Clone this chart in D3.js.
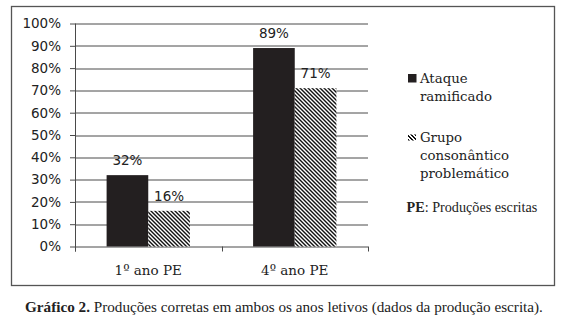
<!DOCTYPE html>
<html>
<head>
<meta charset="utf-8">
<script src="https://cdn.jsdelivr.net/npm/d3@7"></script>
<style>
  body { margin:0; background:#fff; }
  svg { display:block; }
</style>
</head>
<body>
<div id="chart"></div>
<script>
const categories = ["1º ano PE", "4º ano PE"]
const ataque = [32, 89]
const grupo = [16, 71]
const seriesNames = ["ataque", "grupo"]
const yTicks = [0, 10, 20, 30, 40, 50, 60, 70, 80, 90, 100]
const legendLines = [["Ataque", "ramificado"], ["Grupo", "consonântico", "problemático"]]
const caption = ["Gráfico 2.", " Produções corretas em ambos os anos letivos (dados da produção escrita)."]

const W = 569, H = 325
const margin = {top:23.5, left:75, right:201, bottom:78.5}
const width = W - margin.left - margin.right,
  height = H - margin.top - margin.bottom

const svg = d3.select("#chart")
  .append("svg")
    .attr("width", W)
    .attr("height", H)

// hatch pattern: 4x4 tile, "\" stripes two pixels thick
const hatch = svg.append("defs")
  .append("pattern")
    .attr("id", "hatch")
    .attr("patternUnits", "userSpaceOnUse")
    .attr("width", 4)
    .attr("height", 4)
hatch.append("rect").attr("width", 4).attr("height", 4).attr("fill", "#fff")
d3.range(4).forEach(r => {
  [r, (r + 1) % 4].forEach(c => {
    hatch.append("rect").attr("x", c).attr("y", r).attr("width", 1).attr("height", 1)
      .attr("fill", "#111").attr("shape-rendering", "crispEdges")
  })
})

// outer frame
svg.append("rect")
  .attr("x", 11.5).attr("y", 6.5)
  .attr("width", 543).attr("height", 279)
  .attr("fill", "none")
  .attr("stroke", "#555")
  .attr("stroke-width", 1.3)

const g = svg.append("g")
  .attr("transform", "translate(" + margin.left + "," + margin.top + ")")

const x0 = d3.scaleBand().domain(categories).range([0, width])
const pad = x0.bandwidth() * 0.2157
const x1 = d3.scaleBand().domain(seriesNames).range([pad, x0.bandwidth() - pad])
const y = d3.scaleLinear().domain([0, 100]).range([height, 0])

// gridlines
g.selectAll(null)
  .data(yTicks.filter(d => d > 0))
  .enter()
  .append("line")
    .attr("x1", 0).attr("x2", width)
    .attr("y1", d => Math.round(y(d)) + 0.5)
    .attr("y2", d => Math.round(y(d)) + 0.5)
    .style("stroke", "#4a4a4a")

// y axis
g.append("g")
  .call(d3.axisLeft(y)
    .tickValues(yTicks)
    .tickSize(5)
    .tickPadding(9)
    .tickFormat(d => d + "%"))
  .call(a => a.selectAll("line").style("stroke", "#4a4a4a"))
  .call(a => a.select(".domain").style("stroke", "#4a4a4a").attr("d", "M0.5," + (height + 5) + "V0"))
  .call(a => a.selectAll("text")
    .style("font-family", "DejaVu Sans")
    .style("font-size", "13.5px")
    .style("fill", "#222"))

// x axis
const bounds = [0].concat(categories.map(c => x0(c) + x0.bandwidth()))
g.append("line")
  .attr("x1", 0).attr("x2", width)
  .attr("y1", Math.round(height) + 0.5).attr("y2", Math.round(height) + 0.5)
  .style("stroke", "#4a4a4a")
g.selectAll(null)
  .data(bounds)
  .enter()
  .append("line")
    .attr("x1", d => Math.round(d) + 0.5).attr("x2", d => Math.round(d) + 0.5)
    .attr("y1", height).attr("y2", height + 5)
    .style("stroke", "#4a4a4a")
g.selectAll(null)
  .data(categories)
  .enter()
  .append("text")
    .attr("x", d => x0(d) + x0.bandwidth() / 2)
    .attr("y", height + 28)
    .attr("text-anchor", "middle")
    .style("font-family", "DejaVu Serif")
    .style("font-size", "13.5px")
    .style("fill", "#222")
    .text(d => d)

// bars
const rows = categories.map((c, i) => ({cat: c, ataque: ataque[i], grupo: grupo[i]}))
const fills = {ataque: "#231f20", grupo: "url(#hatch)"}
rows.forEach(r => {
  seriesNames.forEach(s => {
    g.append("rect")
      .attr("x", x0(r.cat) + x1(s))
      .attr("y", y(r[s]))
      .attr("width", x1.bandwidth())
      .attr("height", height - y(r[s]))
      .attr("fill", fills[s])
    g.append("text")
      .attr("x", x0(r.cat) + x1(s) + x1.bandwidth() / 2)
      .attr("y", y(r[s]) - 10)
      .attr("text-anchor", "middle")
      .style("font-family", "DejaVu Sans")
      .style("font-size", "13.5px")
      .style("fill", "#222")
      .text(r[s] + "%")
  })
})

// legend
const legY = [82.5, 141.5]
legendLines.forEach((lines, i) => {
  if (i == 0) {
    svg.append("rect").attr("x", 408).attr("y", legY[i] - 8.5).attr("width", 8.5).attr("height", 8.5)
      .attr("fill", fills.ataque)
  } else {
    svg.append("rect").attr("x", 408).attr("y", legY[i] - 7).attr("width", 8).attr("height", 6)
      .attr("fill", fills.grupo)
  }
  const t = svg.append("text")
    .attr("x", 420)
    .attr("y", legY[i])
    .style("font-family", "DejaVu Serif")
    .style("font-size", "13.3px")
    .style("fill", "#222")
  lines.forEach((l, j) => {
    t.append("tspan").attr("x", 420).attr("dy", j == 0 ? 0 : 18.3).text(l)
  })
})
const pe = svg.append("text")
  .attr("x", 406.5).attr("y", 211.5)
  .style("font-family", "Liberation Serif")
  .style("font-size", "14.2px")
  .style("fill", "#222")
pe.append("tspan").style("font-weight", "bold").text("PE")
pe.append("tspan").text(": Produções escritas")

// caption
const cap = svg.append("text")
  .attr("x", 25).attr("y", 312)
  .style("font-family", "Liberation Serif")
  .style("font-size", "15.2px")
  .style("fill", "#222")
cap.append("tspan").style("font-weight", "bold").text(caption[0])
cap.append("tspan").text(caption[1])
</script>
</body>
</html>
